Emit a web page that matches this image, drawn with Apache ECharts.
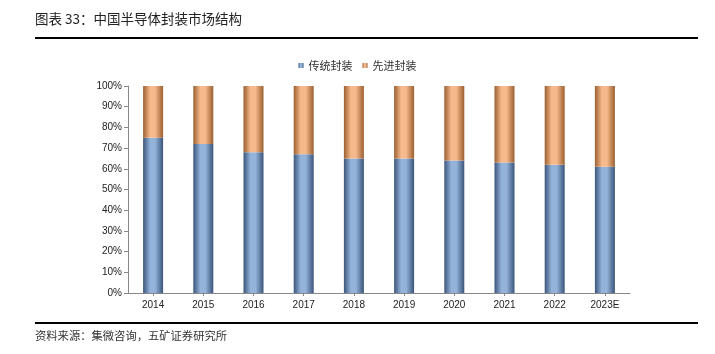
<!DOCTYPE html>
<html>
<head>
<meta charset="utf-8">
<script src="https://cdn.jsdelivr.net/npm/echarts@6/dist/echarts.min.js"></script>
<style>
  html, body { margin: 0; padding: 0; background: #fff; }
  #chart { width: 715px; height: 354px; }
</style>
</head>
<body>
<div id="chart"></div>
<script>
var years = ['2014', '2015', '2016', '2017', '2018', '2019', '2020', '2021', '2022', '2023E'];
var traditional = [75, 72, 68, 67, 65, 65, 64, 63, 62, 61];
var advanced = [25, 28, 32, 33, 35, 35, 36, 37, 38, 39];

var font = '"Noto Sans CJK SC", "Liberation Sans", sans-serif';

function barGradient(edge, mid) {
  return new echarts.graphic.LinearGradient(0, 0, 1, 0, [
    { offset: 0, color: edge },
    { offset: 0.35, color: mid },
    { offset: 0.6, color: mid },
    { offset: 1, color: edge }
  ]);
}

var chart = echarts.init(document.getElementById('chart'));
chart.setOption({
  backgroundColor: '#ffffff',
  animation: false,
  textStyle: { fontFamily: font },
  graphic: [
    { type: 'text', left: 35, top: 12, style: { text: '图表 33：中国半导体封装市场结构', font: '13.5px ' + font, fill: '#222' } },
    { type: 'rect', shape: { x: 35, y: 37, width: 663, height: 2 }, style: { fill: '#000' } },
    { type: 'rect', shape: { x: 35, y: 322, width: 663, height: 2 }, style: { fill: '#000' } },
    { type: 'text', left: 35, top: 330, style: { text: '资料来源：集微咨询，五矿证券研究所', font: '11.3px ' + font, fill: '#333' } }
  ],
  legend: {
    top: 55,
    left: 'center',
    itemWidth: 5,
    itemHeight: 5,
    itemGap: 10,
    icon: 'rect',
    textStyle: { fontSize: 11, color: '#333', fontFamily: font },
    data: ['传统封装', '先进封装']
  },
  grid: { left: 128, right: 85, top: 86, bottom: 61 },
  xAxis: {
    type: 'category',
    data: years,
    axisLine: { lineStyle: { color: '#888' } },
    axisTick: { show: true, alignWithLabel: true, length: 3, lineStyle: { color: '#888' } },
    axisLabel: { color: '#222', fontSize: 10, fontFamily: 'Liberation Sans', margin: 7 }
  },
  yAxis: {
    type: 'value',
    min: 0,
    max: 100,
    interval: 10,
    splitLine: { show: false },
    axisLine: { show: true, lineStyle: { color: '#888' } },
    axisTick: { show: true, length: 4, lineStyle: { color: '#888' } },
    axisLabel: { formatter: '{value}%', color: '#222', fontSize: 10, fontFamily: 'Liberation Sans', margin: 6 }
  },
  series: [
    {
      name: '传统封装',
      type: 'bar',
      stack: 'total',
      barWidth: 20,
      data: traditional,
      itemStyle: { color: barGradient('#3b557a', '#93b3da') }
    },
    {
      name: '先进封装',
      type: 'bar',
      stack: 'total',
      barWidth: 20,
      data: advanced,
      itemStyle: { color: barGradient('#9c5f30', '#f6b98b') }
    }
  ]
});
</script>
</body>
</html>
